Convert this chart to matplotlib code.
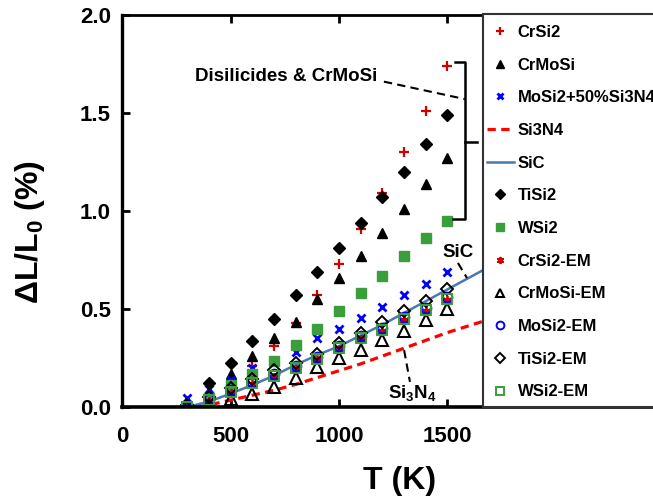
import matplotlib
matplotlib.use("Agg")
import matplotlib.pyplot as plt
from matplotlib.patches import Rectangle

plt.rcParams['font.family'] = ['Liberation Sans', 'DejaVu Sans']
plt.rcParams['font.weight'] = 'bold'
plt.rcParams['mathtext.fontset'] = 'custom'
plt.rcParams['mathtext.rm'] = 'Liberation Sans:bold'
plt.rcParams['mathtext.it'] = 'Liberation Sans:bold'
plt.rcParams['mathtext.bf'] = 'Liberation Sans:bold'

# temperatures (K)
T = [300, 400, 500, 600, 700, 800, 900, 1000, 1100, 1200, 1300, 1400, 1500]

# measured dL/L0 (%)
crsi2 = [0.0, 0.05, 0.12, 0.21, 0.31, 0.43, 0.57, 0.73, 0.91, 1.09, 1.30, 1.51, 1.74]
crmosi = [0.0, 0.08, 0.17, 0.26, 0.35, 0.435, 0.55, 0.66, 0.77, 0.89, 1.01, 1.14, 1.27]
mosi2_si3n4 = [0.045, 0.09, 0.14, 0.20, 0.23, 0.28, 0.35, 0.40, 0.455, 0.51, 0.57, 0.63, 0.69]
tisi2 = [0.0, 0.12, 0.225, 0.335, 0.45, 0.57, 0.69, 0.81, 0.94, 1.07, 1.20, 1.34, 1.49]
wsi2 = [0.0, 0.045, 0.11, 0.17, 0.235, 0.315, 0.40, 0.49, 0.58, 0.67, 0.77, 0.86, 0.95]

# effective medium estimates
crsi2_em = [0.0, 0.03, 0.07, 0.115, 0.155, 0.195, 0.24, 0.295, 0.345, 0.39, 0.445, 0.49, 0.545]
crmosi_em = [0.0, 0.01, 0.04, 0.065, 0.10, 0.15, 0.205, 0.25, 0.29, 0.34, 0.39, 0.445, 0.50]
mosi2_em = [0.0, 0.04, 0.085, 0.13, 0.17, 0.21, 0.255, 0.31, 0.36, 0.405, 0.46, 0.505, 0.56]
tisi2_em = [0.01, 0.05, 0.095, 0.145, 0.19, 0.225, 0.27, 0.325, 0.38, 0.435, 0.49, 0.54, 0.60]
wsi2_em = [0.0, 0.035, 0.075, 0.12, 0.16, 0.20, 0.245, 0.30, 0.35, 0.395, 0.45, 0.495, 0.55]

# reference curves
T_sic = [300, 400, 500, 600, 700, 800, 900, 1000, 1100, 1200, 1300, 1400, 1500, 1600, 1700]
sic = [0.0, 0.027, 0.068, 0.112, 0.16, 0.215, 0.265, 0.31, 0.365, 0.42, 0.48, 0.54, 0.60, 0.66, 0.72]
T_si3n4 = [350, 400, 500, 600, 700, 800, 900, 1000, 1100, 1200, 1300, 1400, 1500, 1600, 1700]
si3n4 = [0.0, 0.01, 0.035, 0.06, 0.085, 0.115, 0.15, 0.185, 0.22, 0.26, 0.30, 0.34, 0.38, 0.415, 0.45]

W, H = 653, 498
fig = plt.figure(figsize=(W / 100, H / 100), dpi=100)
ax = fig.add_axes([122 / W, (H - 407) / H, (W - 122) / W, (407 - 15) / H])

red = '#d00000'
green = '#3a9e3a'
blue = '#0000ff'

ax.plot(T, crsi2, ls='none', marker='+', ms=6.5, mew=1.6, color=red, label='CrSi2')
ax.plot(T, crmosi, ls='none', marker='^', ms=6.5, color='black', label='CrMoSi')
ax.plot(T, mosi2_si3n4, ls='none', marker='x', ms=6.2, mew=2, color=blue, label='MoSi2+50%Si3N4')
ax.plot(T_si3n4, si3n4, color='#ff0000', lw=2.3, dashes=(2.6, 1.7), label='Si3N4')
ax.plot(T_sic, sic, color='#4a78b0', lw=1.8, label='SiC')
ax.plot(T, tisi2, ls='none', marker='D', ms=5.8, color='black', label='TiSi2')
ax.plot(T, wsi2, ls='none', marker='s', ms=6.5, color=green, label='WSi2')
ax.plot(T, crsi2_em, ls='none', marker=(6, 2, 0), ms=6.5, mew=1.3, color=red, label='CrSi2-EM')
ax.plot(T, crmosi_em, ls='none', marker='^', ms=8, mew=1.5, mfc='none', color='black', label='CrMoSi-EM')
ax.plot(T, mosi2_em, ls='none', marker='o', ms=7, mew=1.4, mfc='none', color=blue, label='MoSi2-EM')
ax.plot(T, tisi2_em, ls='none', marker='D', ms=6.5, mew=1.4, mfc='none', color='black', label='TiSi2-EM')
ax.plot(T, wsi2_em, ls='none', marker='s', ms=7, mew=1.4, mfc='none', color=green, label='WSi2-EM')

xmax = (W - 122) / 108.5 * 500
ax.set_xlim(0, xmax)
ax.set_ylim(0, 2.0)
ax.set_xticks([0, 500, 1000, 1500])
ax.set_yticks([0, 0.5, 1.0, 1.5, 2.0])
ax.set_yticklabels(['0.0', '0.5', '1.0', '1.5', '2.0'])
ax.tick_params(direction='in', length=6, width=2, labelsize=16, top=True, right=False, pad=8)
ax.tick_params(axis='x', pad=14)
ax.spines['right'].set_visible(False)
ax.spines['left'].set_linewidth(2.4)
ax.spines['bottom'].set_linewidth(2.6)
ax.spines['top'].set_linewidth(2)

ax.set_xlabel('T (K)', fontsize=23, fontweight='bold')
ax.xaxis.set_label_coords((400 - 122) / (W - 122), (407 - 466) / 392)
ax.set_ylabel(r'ΔL/L$_\mathregular{0}$ (%)', fontsize=23, fontweight='bold')
ax.yaxis.set_label_coords((30 - 122) / (W - 122), (407 - 232) / 392)
ax.yaxis.label.set_va('center')

# annotations
ax.text(756, 1.684, 'Disilicides & CrMoSi', fontsize=13.5, fontweight='bold', ha='center', va='center')
ax.plot([1207, 1580], [1.66, 1.571], color='black', lw=1.5, ls='--', dashes=(4, 2.5))
ax.plot([1535, 1580, 1580, 1525], [1.76, 1.76, 0.96, 0.96], color='black', lw=1.8, clip_on=False)
ax.plot([1580, 1636], [1.352, 1.352], color='black', lw=1.8, clip_on=False)

ax.text(1548, 0.786, 'SiC', fontsize=13.5, fontweight='bold', ha='center', va='center')
ax.plot([1548, 1590], [0.735, 0.658], color='black', lw=1.5, dashes=(4, 2.5))
ax.text(1336, 0.07, r'Si$_\mathregular{3}$N$_\mathregular{4}$', fontsize=13.5, fontweight='bold', ha='center', va='center')
ax.plot([1300, 1327], [0.29, 0.128], color='black', lw=1.5, dashes=(4, 2.5))

# legend box running off the right edge
box = Rectangle((483 / W, (H - 407) / H), 0.4, (407 - 14) / H, transform=fig.transFigure,
                facecolor='white', edgecolor='#333333', lw=1.5, zorder=8, clip_on=False)
ax.add_patch(box)
leg = ax.legend(loc='upper left', bbox_to_anchor=(487 / W, 1 - 25 / H), bbox_transform=fig.transFigure,
                frameon=False, fontsize=12, handlelength=1.6, handletextpad=0.25, labelspacing=1.06,
                borderpad=0, borderaxespad=0, numpoints=1, markerscale=0.8)
leg.set_zorder(10)
for t in leg.get_texts():
    t.set_fontweight('bold')

fig.savefig('out.png', dpi=100)
